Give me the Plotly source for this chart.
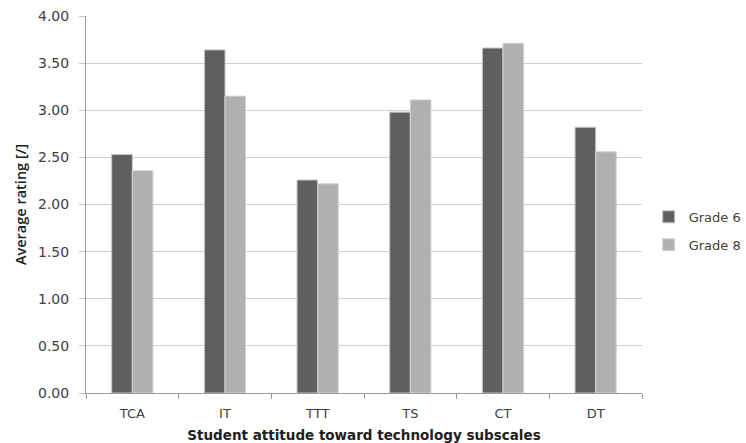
import plotly.graph_objects as go

# Subscale scores by grade
subscales = ["TCA", "IT", "TTT", "TS", "CT", "DT"]
grade6 = [2.53, 3.64, 2.26, 2.98, 3.66, 2.82]
grade8 = [2.36, 3.15, 2.22, 3.11, 3.71, 2.56]
y_ticks = [0, 0.5, 1.0, 1.5, 2.0, 2.5, 3.0, 3.5, 4.0]

font_family = "DejaVu Sans"
text_color = "#404040"

fig = go.Figure()
fig.add_trace(go.Bar(
    name="Grade 6", x=subscales, y=grade6, legendgroup="g6",
    marker=dict(color="#5f5f5f", line=dict(color="#c4c4c4", width=1)),
))
fig.add_trace(go.Bar(
    name="Grade 8", x=subscales, y=grade8, legendgroup="g8",
    marker=dict(color="#b0b0b0", line=dict(color="#d4d4d4", width=1)),
))

fig.update_layout(
    width=746, height=443,
    margin=dict(l=86, r=104, t=16, b=50, autoexpand=False),
    paper_bgcolor="white", plot_bgcolor="white",
    barmode="group", bargap=0.555, bargroupgap=0,
    font=dict(family=font_family, size=12, color=text_color),
    legend=dict(
        x=1.012, y=0.43, xanchor="left", yanchor="middle",
        font=dict(family=font_family, size=13, color=text_color),
        itemwidth=30, tracegroupgap=8, bgcolor="rgba(0,0,0,0)",
    ),
    xaxis=dict(
        type="category",
        showline=True, linecolor="#9a9a9a", linewidth=1,
        ticks="outside", tickson="boundaries", ticklen=5, tickcolor="#9a9a9a",
        ticklabelstandoff=8,
        tickfont=dict(family=font_family, size=13, color=text_color),
        title=dict(
            text="<b>Student attitude toward technology subscales</b>",
            font=dict(family=font_family, size=13.5, color="#202020"),
            standoff=12,
        ),
    ),
    yaxis=dict(
        range=[0, 4.0], tickvals=y_ticks, tickformat=".2f",
        showline=True, linecolor="#9a9a9a", linewidth=1,
        ticks="outside", ticklen=6, tickcolor="#c8c8c8",
        ticklabelstandoff=7,
        showgrid=True, gridcolor="#cfcfcf", gridwidth=1,
        zeroline=False,
        tickfont=dict(family=font_family, size=14, color=text_color),
        title=dict(
            text="Average rating [/]",
            font=dict(family="Open Sans", size=14.5, color="#202020", weight=600),
            standoff=7,
        ),
    ),
)

fig.write_html("out.html")
